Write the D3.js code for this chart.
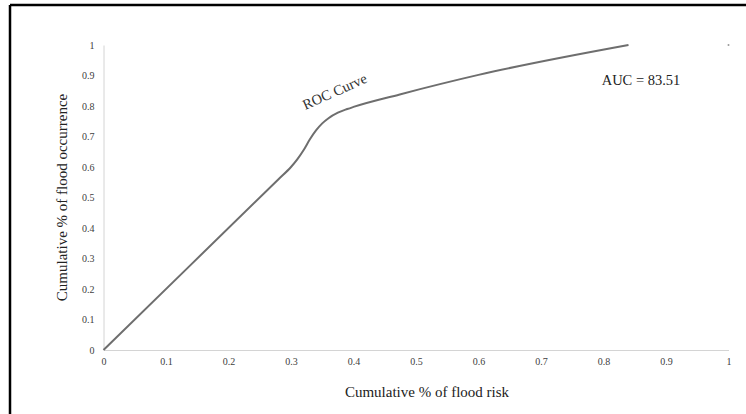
<!DOCTYPE html>
<html>
<head>
<meta charset="utf-8">
<script src="https://cdn.jsdelivr.net/npm/d3@7"></script>
<style>
  html, body { margin: 0; padding: 0; background: #fff; }
  svg { display: block; }
  text { font-family: "Liberation Serif", "DejaVu Serif", serif; }
</style>
</head>
<body>
<div id="chart"></div>
<script>
// ---- data ----
const rocX = [0, 0.28, 0.3, 0.31, 0.32, 0.33, 0.34, 0.35, 0.36, 0.375, 0.39, 0.4, 0.474, 0.6, 0.84];
const rocY = [0, 0.56, 0.6, 0.625, 0.655, 0.69, 0.72, 0.743, 0.76, 0.778, 0.79, 0.797, 0.838, 0.902, 1.0];
const xTicks = [0, 0.1, 0.2, 0.3, 0.4, 0.5, 0.6, 0.7, 0.8, 0.9, 1];
const yTicks = [0, 0.1, 0.2, 0.3, 0.4, 0.5, 0.6, 0.7, 0.8, 0.9, 1];
const xTickLabels = ["0", "0.1", "0.2", "0.3", "0.4", "0.5", "0.6", "0.7", "0.8", "0.9", "1"];
const yTickLabels = ["0", "0.1", "0.2", "0.3", "0.4", "0.5", "0.6", "0.7", "0.8", "0.9", "1"];
const cornerPoint = [1, 1];
const xTitle = "Cumulative % of flood risk";
const yTitle = "Cumulative % of flood occurrence";
const curveLabel = "ROC Curve";
const aucLabel = "AUC = 83.51";

// ---- layout ----
const W = 746, H = 414;
const svg = d3.select("#chart").append("svg").attr("width", W).attr("height", H);

// frame (top & left edges visible)
svg.append("line").attr("x1", 10).attr("x2", W).attr("y1", 5).attr("y2", 5)
  .attr("stroke", "#000").attr("stroke-width", 2.5);
svg.append("line").attr("x1", 10).attr("x2", 10).attr("y1", 5).attr("y2", H)
  .attr("stroke", "#000").attr("stroke-width", 2.5);

const x = d3.scaleLinear().domain([0, 1]).range([103.5, 728.5]);
const y = d3.scaleLinear().domain([0, 1]).range([350, 45]);

// x axis
const xAxis = d3.axisBottom(x).tickValues(xTicks)
  .tickFormat((d, i) => xTickLabels[i]).tickSize(0).tickPadding(8);
const gx = svg.append("g").attr("transform", `translate(0,${y(0)})`).call(xAxis);
gx.select(".domain").attr("stroke", "#d4d4d4").attr("stroke-width", 1);
gx.selectAll("text").attr("font-size", 10).attr("fill", "#404040")
  .attr("font-family", "Liberation Serif, serif");

// y axis
const yAxis = d3.axisLeft(y).tickValues(yTicks)
  .tickFormat((d, i) => yTickLabels[i]).tickSize(0).tickPadding(9);
const gy = svg.append("g").attr("transform", `translate(${x(0)},0)`).call(yAxis);
gy.select(".domain").attr("stroke", "#d4d4d4").attr("stroke-width", 1);
gy.selectAll("text").attr("font-size", 10).attr("fill", "#404040")
  .attr("font-family", "Liberation Serif, serif");

// curve
const pts = rocX.map((v, i) => [v, rocY[i]]);
const line = d3.line().x(d => x(d[0])).y(d => y(d[1])).curve(d3.curveMonotoneX);
svg.append("path").datum(pts).attr("d", line)
  .attr("fill", "none").attr("stroke", "#6e6e6e").attr("stroke-width", 2);

// small corner mark
svg.append("circle").attr("cx", x(cornerPoint[0])).attr("cy", y(cornerPoint[1]))
  .attr("r", 1).attr("fill", "#999");

// labels
svg.append("text").attr("transform", `translate(${x(0.373)},${y(0.8) - 10}) rotate(-24)`)
  .attr("text-anchor", "middle").attr("font-size", 14.5).attr("fill", "#333")
  .text(curveLabel);

svg.append("text").attr("x", 641).attr("y", 85)
  .attr("text-anchor", "middle").attr("font-size", 14.5).attr("fill", "#222")
  .text(aucLabel);

// axis titles
svg.append("text").attr("x", 427).attr("y", 397)
  .attr("text-anchor", "middle").attr("font-size", 15).attr("fill", "#222")
  .text(xTitle);

svg.append("text").attr("transform", `translate(67,${(y(0) + y(1)) / 2}) rotate(-90)`)
  .attr("text-anchor", "middle").attr("font-size", 15).attr("fill", "#222")
  .text(yTitle);
</script>
</body>
</html>
